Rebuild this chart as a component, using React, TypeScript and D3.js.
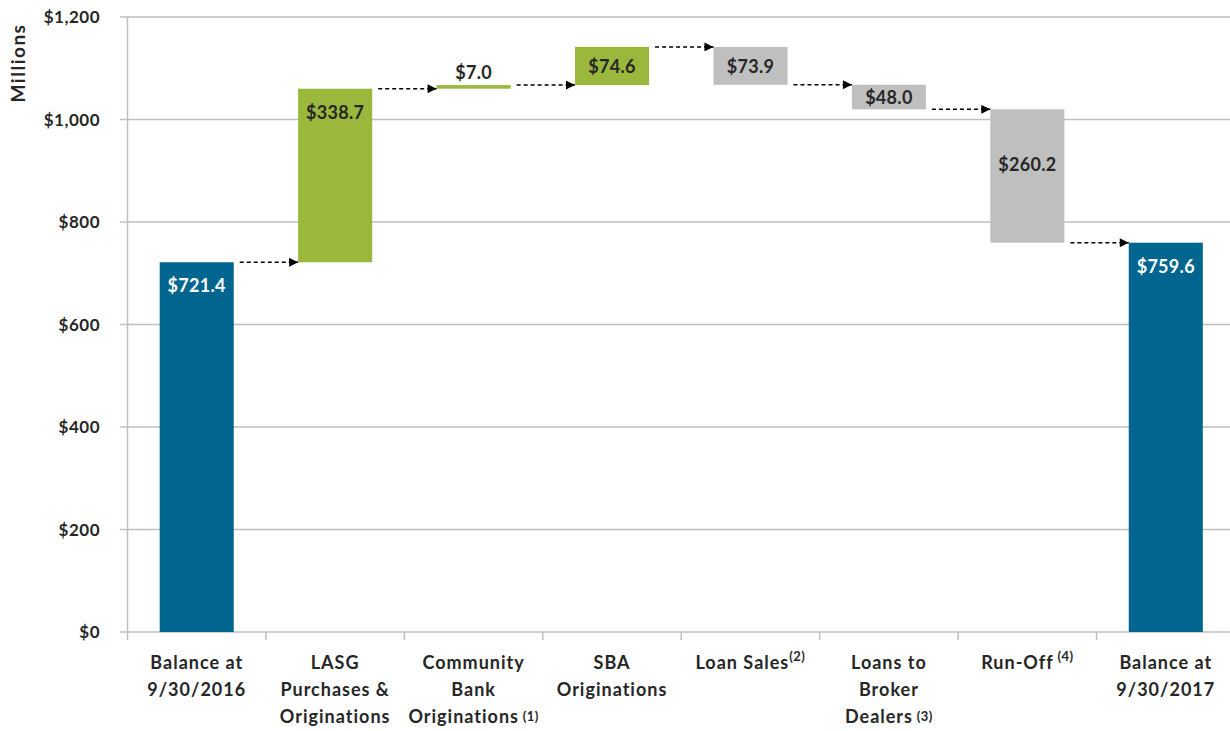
import React from "react";
import * as d3 from "d3";

const categoryLines: string[][] = [
  ["Balance at", "9/30/2016"],
  ["LASG", "Purchases &", "Originations"],
  ["Community", "Bank", "Originations"],
  ["SBA", "Originations"],
  ["Loan Sales"],
  ["Loans to", "Broker", "Dealers"],
  ["Run-Off"],
  ["Balance at", "9/30/2017"],
];
const footnotes = ["", "", " (1)", "", "(2)", " (3)", " (4)", ""];
const footnoteRaised = [false, false, false, false, true, false, true, false];
const amounts = [721.4, 338.7, 7.0, 74.6, -73.9, -48.0, -260.2, 759.6];
const kinds = ["total", "increase", "increase", "increase", "decrease", "decrease", "decrease", "total"];
const labelPlacement = ["top", "top", "above", "center", "center", "center", "upper", "top"];
const yTicks = [0, 200, 400, 600, 800, 1000, 1200];

const W = 1230;
const H = 731;
const colors: Record<string, string> = { total: "#00658F", increase: "#9BB83C", decrease: "#BFBFBF" };
const textColor = "#262626";
const FONT = "Lato, 'Open Sans', sans-serif";

export default function App() {
  const x = d3.scaleBand<number>().domain(d3.range(amounts.length)).range([127.5, 1235]).paddingInner(0.465).paddingOuter(0.2325);
  const y = d3.scaleLinear().domain([0, 1200]).range([632, 17]);

  let running = 0;
  const segs = amounts.map((v, i) => {
    let start: number, end: number;
    if (kinds[i] === "total") {
      start = 0;
      end = v;
      running = v;
    } else {
      start = running;
      end = running + v;
      running = end;
    }
    return { i, start, end, v };
  });

  const fmt = (v: number) => "$" + Math.abs(v).toFixed(1);
  const step = x.step();

  return (
    <svg width={W} height={H} style={{ position: "absolute", left: 0, top: 0, background: "#fff" }} fontFamily={FONT}>
      <defs>
        <marker id="arr" viewBox="0 0 10 10" refX="10" refY="5" markerWidth="10" markerHeight="9" markerUnits="userSpaceOnUse" orient="auto">
          <path d="M0,0 L10,5 L0,10 z" fill="#000" />
        </marker>
      </defs>
      {yTicks.map((t) => (
        <g key={t}>
          <line x1={120} x2={W} y1={y(t)} y2={y(t)} stroke="#BFBFBF" strokeWidth={1.5} />
          <text x={100} y={y(t) + 6} textAnchor="end" fontSize={17} fontWeight={700} letterSpacing={0.5} fill={textColor}>
            {"$" + d3.format(",")(t)}
          </text>
        </g>
      ))}
      <line x1={127.5} x2={127.5} y1={y(1200)} y2={y(0) + 1} stroke="#BFBFBF" strokeWidth={1.5} />
      {d3.range(amounts.length + 1).map((k) => (
        <line key={k} x1={127.5 + k * step} x2={127.5 + k * step} y1={y(0)} y2={y(0) + 8} stroke="#BFBFBF" strokeWidth={1.5} />
      ))}
      <text transform={`translate(25,${63}) rotate(-90)`} textAnchor="middle" fontSize={19} fontWeight={700} letterSpacing={1.5} fill={textColor}>
        Millions
      </text>
      {segs.map((s) => {
        const top = y(Math.max(s.start, s.end));
        const bot = y(Math.min(s.start, s.end));
        const h = Math.max(bot - top, 2.5);
        return <rect key={s.i} x={x(s.i)} y={top} width={x.bandwidth()} height={h} fill={colors[kinds[s.i]]} />;
      })}
      {segs.slice(0, -1).map((s) => {
        const level = y(s.end);
        const x1 = (x(s.i) as number) + x.bandwidth() + 6;
        const x2 = x(s.i + 1) as number;
        return (
          <line key={s.i} x1={x1} x2={x2} y1={level} y2={level} stroke="#000" strokeWidth={1.5} strokeDasharray="4,3" markerEnd="url(#arr)" />
        );
      })}
      {segs.map((s) => {
        const top = y(Math.max(s.start, s.end));
        const bot = y(Math.min(s.start, s.end));
        const cx = (x(s.i) as number) + x.bandwidth() / 2;
        let ly = top + 30;
        if (labelPlacement[s.i] === "above") ly = top - 6;
        if (labelPlacement[s.i] === "center") ly = (top + bot) / 2 + 7;
        if (labelPlacement[s.i] === "upper") ly = top + (bot - top) * 0.46;
        const fill = kinds[s.i] === "total" ? "#fff" : textColor;
        return (
          <text key={s.i} x={cx} y={ly} textAnchor="middle" fontSize={18} fontWeight={700} letterSpacing={0.3} fill={fill}>
            {fmt(s.v)}
          </text>
        );
      })}
      {categoryLines.map((lines, i) => {
        const cx = (x(i) as number) + x.bandwidth() / 2;
        return (
          <g key={i}>
            {lines.map((ln, j) => {
              const last = j === lines.length - 1;
              return (
                <text key={j} x={cx} y={669 + j * 27} textAnchor="middle" fontSize={18} fontWeight={700} letterSpacing={1} fill={textColor} xmlSpace="preserve">
                  {ln}
                  {last && footnotes[i] ? (
                    <tspan fontSize={13} letterSpacing={0.5} dy={footnoteRaised[i] ? -8 : -2}>
                      {footnotes[i].replace(" ", "\u00a0")}
                    </tspan>
                  ) : null}
                </text>
              );
            })}
          </g>
        );
      })}
    </svg>
  );
}
